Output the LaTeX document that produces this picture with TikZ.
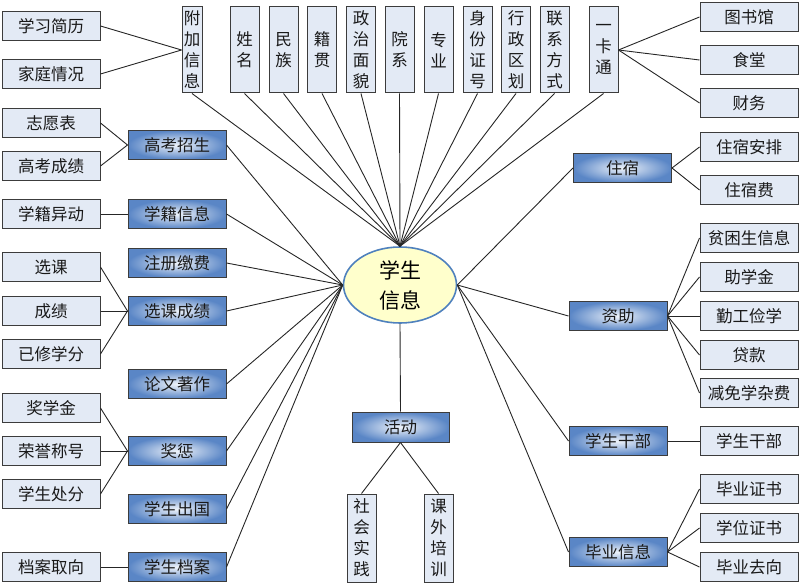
\documentclass[tikz,border=0pt]{standalone}
\usepackage{fontspec}
\newfontfamily\cjk{Noto Sans CJK SC}
\usetikzlibrary{shapes.geometric}
\definecolor{leaffill}{HTML}{E3EAF5}
\definecolor{boxline}{HTML}{3C3C3C}
\definecolor{catouter}{HTML}{5A86C6}
\definecolor{catinner}{HTML}{EEF3FA}
\definecolor{ellfill}{HTML}{FFFFCC}
\definecolor{ellline}{HTML}{4F81BD}
\tikzset{
  base/.style={draw=boxline, line width=1pt, inner sep=0pt, text=black!90,
    font=\cjk\fontsize{16.5}{21}\selectfont},
  leaf/.style={base, fill=leaffill, minimum width=98pt, minimum height=29pt},
  cat/.style={base, minimum width=98pt, minimum height=29pt,
    inner color=catinner, outer color=catouter},
  vbox/.style={base, fill=leaffill, minimum width=29pt, minimum height=86pt, align=center},
  link/.style={draw=black!85, line width=0.9pt}
}
\begin{document}
\begin{tikzpicture}[x=1pt,y=-1pt]
\useasboundingbox (0,0) rectangle (800,585);
% centre
\node[ellipse, draw=ellline, line width=1.6pt, fill=ellfill, minimum width=113pt, minimum height=76pt,
  inner sep=0pt, align=center, font=\cjk\fontsize{21}{30}\selectfont] (c) at (400,285) {学生\\信息};
% top vertical boxes
\node[vbox, minimum width=20pt] (t1) at (192,50) {附\\加\\信\\息};
\node[vbox] (t2) at (244.5,50) {姓\\名};
\node[vbox] (t3) at (283.5,50) {民\\族};
\node[vbox] (t4) at (322,50) {籍\\贯};
\node[vbox] (t5) at (361,50) {政\\治\\面\\貌};
\node[vbox] (t6) at (399.5,50) {院\\系};
\node[vbox] (t7) at (438.5,50) {专\\业};
\node[vbox] (t8) at (477.5,50) {身\\份\\证\\号};
\node[vbox] (t9) at (516,50) {行\\政\\区\\划};
\node[vbox] (t10) at (554.5,50) {联\\系\\方\\式};
\node[vbox] (t11) at (603.5,50) {一\\卡\\通};
\foreach \i in {1,...,11} \draw[link] (t\i.south) -- (c.north);
% left leaves
\node[leaf] (l1) at (51,26) {学习简历};
\node[leaf] (l2) at (51,74) {家庭情况};
\node[leaf] (l3) at (51,123) {志愿表};
\node[leaf] (l4) at (51,166) {高考成绩};
\node[leaf] (l5) at (51,214) {学籍异动};
\node[leaf] (l6) at (51,267) {选课};
\node[leaf] (l7) at (51,311) {成绩};
\node[leaf] (l8) at (51,354) {已修学分};
\node[leaf] (l9) at (51,408) {奖学金};
\node[leaf] (l10) at (51,451) {荣誉称号};
\node[leaf] (l11) at (51,494) {学生处分};
\node[leaf] (l12) at (51,567) {档案取向};
% left categories
\node[cat] (m1) at (177,145) {高考招生};
\node[cat] (m2) at (177,214) {学籍信息};
\node[cat] (m3) at (177,263) {注册缴费};
\node[cat] (m4) at (177,311) {选课成绩};
\node[cat] (m5) at (177,384) {论文著作};
\node[cat] (m6) at (177,451) {奖惩};
\node[cat] (m7) at (177,509) {学生出国};
\node[cat] (m8) at (177,567) {学生档案};
\foreach \i in {1,...,8} \draw[link] (m\i.east) -- (c.west);
\draw[link] (l1.east) -- (t1.west);
\draw[link] (l2.east) -- (t1.west);
\draw[link] (l3.east) -- (m1.west);
\draw[link] (l4.east) -- (m1.west);
\draw[link] (l5.east) -- (m2.west);
\foreach \i in {6,7,8} \draw[link] (l\i.east) -- (m4.west);
\foreach \i in {9,10,11} \draw[link] (l\i.east) -- (m6.west);
\draw[link] (l12.east) -- (m8.west);
% right leaves
\node[leaf] (r1) at (749,17) {图书馆};
\node[leaf] (r2) at (749,60) {食堂};
\node[leaf] (r3) at (749,103) {财务};
\node[leaf] (r4) at (749,147) {住宿安排};
\node[leaf] (r5) at (749,190) {住宿费};
\node[leaf] (r6) at (749,238) {贫困生信息};
\node[leaf] (r7) at (749,277) {助学金};
\node[leaf] (r8) at (749,316) {勤工俭学};
\node[leaf] (r9) at (749,355) {贷款};
\node[leaf] (r10) at (749,393) {减免学杂费};
\node[leaf] (r11) at (749,441) {学生干部};
\node[leaf] (r12) at (749,489) {毕业证书};
\node[leaf] (r13) at (749,528) {学位证书};
\node[leaf] (r14) at (749,567) {毕业去向};
% right categories
\node[cat] (n1) at (622.5,168) {住宿};
\node[cat] (n2) at (618,316) {资助};
\node[cat] (n3) at (618,441) {学生干部};
\node[cat] (n4) at (618,552) {毕业信息};
\foreach \i in {1,...,4} \draw[link] (n\i.west) -- (c.east);
\foreach \i in {1,2,3} \draw[link] (r\i.west) -- (t11.east);
\draw[link] (r4.west) -- (n1.east);
\draw[link] (r5.west) -- (n1.east);
\foreach \i in {6,...,10} \draw[link] (r\i.west) -- (n2.east);
\draw[link] (r11.west) -- (n3.east);
\foreach \i in {12,13,14} \draw[link] (r\i.west) -- (n4.east);
% activities
\node[cat, minimum width=97pt, minimum height=30pt] (a) at (400.5,427) {活动};
\node[vbox, minimum height=88pt] (a1) at (361.5,538) {社\\会\\实\\践};
\node[vbox, minimum height=88pt] (a2) at (438.5,538) {课\\外\\培\\训};
\draw[link] (c.south) -- (a.north);
\draw[link] (a.south) -- (a1.north);
\draw[link] (a.south) -- (a2.north);
\end{tikzpicture}
\end{document}
